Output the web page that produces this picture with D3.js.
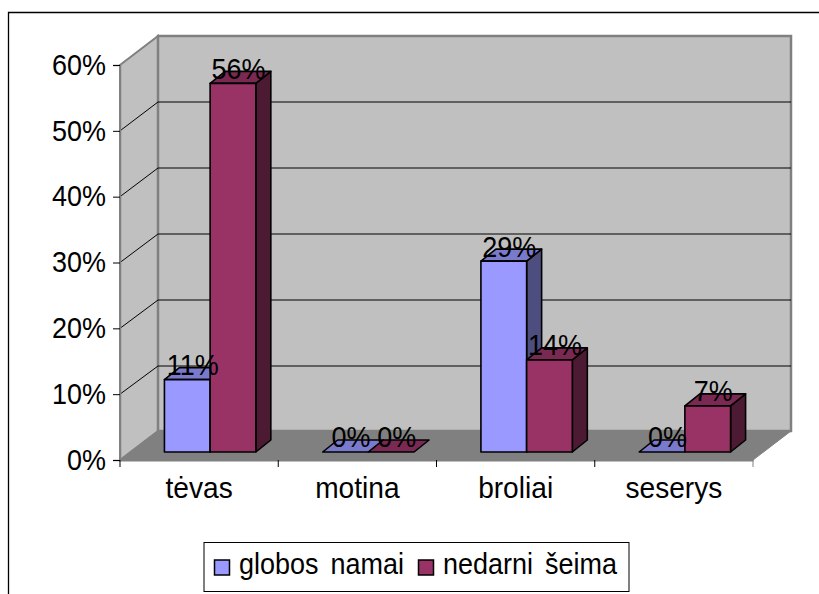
<!DOCTYPE html>
<html>
<head>
<meta charset="utf-8">
<script src="https://cdn.jsdelivr.net/npm/d3@7"></script>
<style>
    html, body { margin: 0; padding: 0; background: #fff; }
    svg { display: block; }
    text { font-family: "Liberation Sans", Arial, sans-serif; fill: #000; transform-box: fill-box; }
</style>
</head>
<body>
<div id="chart"></div>
<script>
// Data
const categories = ['tėvas', 'motina', 'broliai', 'seserys'];
const seriesNames = ['globos namai', 'nedarni šeima'];
const globosNamai = [11, 0, 29, 0];
const nedarniSeima = [56, 0, 14, 7];
const yTicks = [0, 10, 20, 30, 40, 50, 60];

// The original text is a little taller than it is wide
function squeeze(selection, amount, origin) {
    selection
        .style('font-size', '29px')
        .style('font-family', '"Liberation Sans", Arial, sans-serif')
        .style('transform', `scaleX(${amount})`)
        .style('transform-origin', origin);
}

function draw() {
    // Dimensions
    const dimensions = { width: 819, height: 594 };
    const plot = { left: 120, right: 753, top: 65, bottom: 460 };
    const wall = { dx: 38, dy: -29 };       // depth of the 3D box
    const barShift = { dx: 11, dy: -8 };    // bars stand inside the box
    const barDepth = { dx: 15, dy: -12 };

    const colors = [
        { front: '#9999ff', top: '#7a7acc', side: '#4d4d80' },
        { front: '#993366', top: '#7a2952', side: '#4d1a33' }
    ];
    const values = [globosNamai, nedarniSeima];

    // Scales
    const yScale = d3.scaleLinear()
        .domain([0, 60])
        .range([plot.bottom, plot.top]);

    // Same axis on the back wall, a bit off from the front one
    const yBack = d3.scaleLinear()
        .domain([0, 60])
        .range([432, 36]);

    const xScale = d3.scaleBand()
        .domain(categories)
        .range([plot.left, plot.right]);

    const seriesScale = d3.scaleBand()
        .domain(seriesNames)
        .range([0, 91.4]);

    const svg = d3.select('#chart')
        .append('svg')
        .attr('width', dimensions.width)
        .attr('height', dimensions.height);

    // Outer frame, only top and left are in view
    svg.append('path')
        .attr('d', 'M819,12.5H8.5V594')
        .attr('fill', 'none')
        .attr('stroke', '#000')
        .attr('stroke-width', 1.3);

    // Walls and floor
    const poly = pts => d3.line()(pts) + 'Z';
    const backLeft = plot.left + wall.dx;
    const backRight = plot.right + wall.dx;
    const backTop = plot.top + wall.dy;
    const backBottom = plot.bottom + wall.dy;

    svg.append('path')
        .attr('d', poly([[plot.left, plot.top], [backLeft, backTop], [backLeft, backBottom], [plot.left, plot.bottom]]))
        .attr('fill', '#c0c0c0')
        .attr('stroke', '#808080')
        .attr('stroke-width', 2);

    svg.append('rect')
        .attr('x', backLeft)
        .attr('y', backTop)
        .attr('width', backRight - backLeft)
        .attr('height', backBottom - backTop)
        .attr('fill', '#c0c0c0')
        .attr('stroke', '#808080')
        .attr('stroke-width', 2.5);

    svg.append('path')
        .attr('d', poly([[plot.left, plot.bottom], [backLeft, backBottom], [backRight, backBottom], [plot.right, plot.bottom]]))
        .attr('fill', '#808080')
        .attr('stroke', '#808080');

    // Gridlines
    const grid = svg.append('g')
        .attr('fill', 'none')
        .attr('stroke', '#000');

    grid.selectAll('path')
        .data(yTicks.slice(1, -1))
        .join('path')
        .attr('d', d => d3.line()([
            [plot.left, yScale(d)],
            [backLeft, yBack(d)],
            [backRight, yBack(d)]
        ]));

    // Axes
    const yAxis = d3.axisLeft(yScale)
        .tickValues(yTicks)
        .tickFormat(d => `${d}%`)
        .tickSize(7)
        .tickPadding(7);

    const yAxisGroup = svg.append('g')
        .attr('transform', `translate(${plot.left},0)`)
        .call(yAxis);
    yAxisGroup.select('.domain').attr('stroke', '#808080').attr('stroke-width', 1.5);
    yAxisGroup.selectAll('.tick line').attr('stroke', '#000');
    yAxisGroup.selectAll('text').call(squeeze, 0.93, 'right center');

    const xAxis = d3.axisBottom(xScale)
        .tickSize(0)
        .tickPadding(17)
        .tickSizeOuter(0);

    const xAxisGroup = svg.append('g')
        .attr('transform', `translate(0,${plot.bottom})`)
        .call(xAxis);
    xAxisGroup.select('.domain').attr('stroke', '#808080').attr('stroke-width', 2);
    xAxisGroup.selectAll('text').call(squeeze, 0.97, 'center center');

    // Category ticks sit on the band edges
    svg.append('g')
        .selectAll('line')
        .data(categories.concat('end'))
        .join('line')
        .attr('x1', d => d === 'end' ? plot.right : xScale(d))
        .attr('x2', d => d === 'end' ? plot.right : xScale(d))
        .attr('y1', plot.bottom)
        .attr('y2', plot.bottom + 7)
        .attr('stroke', (d, i) => d === 'end' ? '#808080' : '#000');

    // Bars, drawn back to front so that the right bar overlaps the left one
    const barInset = (xScale.bandwidth() - 91.4) / 2 + barShift.dx;
    const baseY = plot.bottom + barShift.dy;
    const heightOf = v => plot.bottom - yScale(v);
    const barsData = categories.flatMap((c, ci) =>
        seriesNames.map((s, si) => ({ category: c, series: s, si, value: values[si][ci] })));

    const bars = svg.append('g')
        .attr('stroke', '#000')
        .attr('stroke-width', 1.6)
        .attr('stroke-linejoin', 'round')
        .selectAll('g')
        .data(barsData)
        .join('g');

    const x0 = d => xScale(d.category) + barInset + seriesScale(d.series);
    const x1 = d => x0(d) + seriesScale.bandwidth();
    const yTop = d => baseY - heightOf(d.value);

    bars.filter(d => d.value > 0).append('path')
        .attr('d', d => poly([
            [x1(d), baseY], [x1(d) + barDepth.dx, baseY + barDepth.dy],
            [x1(d) + barDepth.dx, yTop(d) + barDepth.dy], [x1(d), yTop(d)]
        ]))
        .attr('fill', d => colors[d.si].side);

    bars.append('path')
        .attr('d', d => poly([
            [x0(d), yTop(d)], [x0(d) + barDepth.dx, yTop(d) + barDepth.dy],
            [x1(d) + barDepth.dx, yTop(d) + barDepth.dy], [x1(d), yTop(d)]
        ]))
        .attr('fill', d => colors[d.si].top);

    bars.filter(d => d.value > 0).append('rect')
        .attr('x', x0)
        .attr('y', yTop)
        .attr('width', seriesScale.bandwidth())
        .attr('height', d => baseY - yTop(d))
        .attr('fill', d => colors[d.si].front);

    // Value labels
    svg.append('g')
        .selectAll('text')
        .data(barsData)
        .join('text')
        .attr('x', d => (x0(d) + x1(d)) / 2 + 5.5)
        .attr('y', d => yTop(d) - 4.5)
        .attr('text-anchor', 'middle')
        .text(d => `${d.value}%`)
        .call(squeeze, 0.93, 'center center');

    // Legend
    const legend = svg.append('g');
    legend.append('rect')
        .attr('x', 204)
        .attr('y', 542.5)
        .attr('width', 425)
        .attr('height', 49)
        .attr('fill', '#fff')
        .attr('stroke', '#000');

    const legendX = [214, 418];
    seriesNames.forEach((name, i) => {
        legend.append('rect')
            .attr('x', legendX[i] + 0.5)
            .attr('y', 560)
            .attr('width', 15)
            .attr('height', 15)
            .attr('fill', colors[i].front)
            .attr('stroke', '#000')
            .attr('stroke-width', 1.5);
        legend.append('text')
            .attr('x', legendX[i] + 25)
            .attr('y', 574)
            .style('word-spacing', '5px')
            .text(name)
            .call(squeeze, 0.93, 'left center');
    });
}

draw();
</script>
</body>
</html>
